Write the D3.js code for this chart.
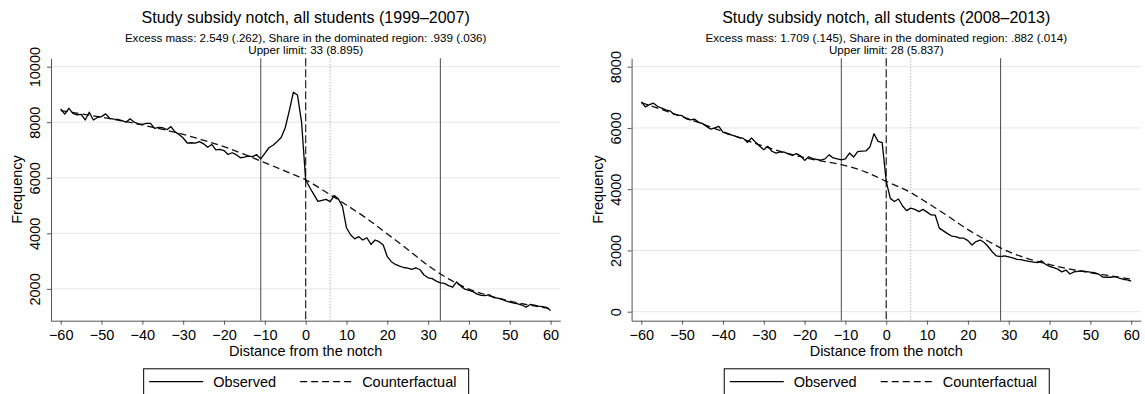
<!DOCTYPE html>
<html>
<head>
<meta charset="utf-8">
<script src="https://cdn.jsdelivr.net/npm/d3@7"></script>
<style>
  body { margin: 0; background: #fff; }
  svg text { font-family: "Liberation Sans", Arial, Helvetica, sans-serif; fill: #000; }
  .axis text { font-size: 14.5px; }
  .axis path, .axis line { stroke: #555; }
</style>
</head>
<body>
<div id="chart"></div>
<script>
// bins: distance from the notch
var distance = [-60,-59,-58,-57,-56,-55,-54,-53,-52,-51,-50,-49,-48,-47,-46,-45,-44,-43,-42,-41,
  -40,-39,-38,-37,-36,-35,-34,-33,-32,-31,-30,-29,-28,-27,-26,-25,-24,-23,-22,-21,
  -20,-19,-18,-17,-16,-15,-14,-13,-12,-11,-10,-9,-8,-7,-6,-5,-4,-3,-2,-1,
  0,1,2,3,4,5,6,7,8,9,10,11,12,13,14,15,16,17,18,19,20,21,22,23,24,25,26,27,28,29,
  30,31,32,33,34,35,36,37,38,39,40,41,42,43,44,45,46,47,48,49,50,51,52,53,54,55,56,57,58,59,60];

var observed9907 = [8480,8290,8500,8320,8260,8280,8080,8360,8080,8170,
  8200,8300,8140,8110,8100,8060,8000,8120,8000,7940,
  7920,7960,7960,7780,7810,7800,7730,7840,7650,7560,
  7430,7250,7260,7250,7300,7220,7100,7200,7000,7020,
  6980,6840,6900,6830,6720,6740,6780,6760,6830,6680,
  6880,7080,7170,7300,7450,7800,8420,9080,8980,8000,
  5920,5650,5400,5150,5190,5220,5140,5360,5240,4980,
  4200,3950,3800,3880,3760,3840,3600,3760,3700,3580,
  3160,2980,2880,2820,2770,2750,2700,2760,2690,2500,
  2400,2370,2280,2220,2200,2120,2060,2250,2100,1990,
  1950,1900,1810,1770,1760,1790,1690,1665,1630,1570,
  1520,1490,1460,1420,1340,1440,1415,1380,1360,1330,1220];

var observed0813 = [6850,6690,6760,6810,6700,6650,6590,6560,6450,6420,
  6400,6300,6260,6290,6190,6140,6050,5960,6000,6050,
  5860,5810,5770,5730,5690,5660,5530,5670,5530,5400,
  5290,5400,5240,5180,5220,5210,5150,5100,5160,5090,
  4940,5060,5000,4970,4950,4990,5120,5020,4990,4960,
  4990,5180,5050,5230,5240,5250,5380,5810,5560,5520,
  4250,3700,3600,3680,3450,3300,3380,3340,3270,3340,
  3250,3160,3150,2730,2640,2550,2470,2450,2400,2400,
  2320,2180,2290,2340,2260,2120,1950,1820,1800,1820,
  1790,1760,1710,1700,1670,1640,1620,1600,1660,1550,
  1480,1440,1390,1300,1360,1230,1300,1320,1330,1310,
  1290,1275,1230,1130,1125,1125,1145,1100,1060,1040,1000];

// counterfactual read at a few points, drawn as a smooth curve
var cfDistance = [-60,-55,-50,-45,-40,-35,-30,-25,-20,-15,-11,-5,0,6,10,15,20,25,30,35,40,45,50,55,60];
var counterfactual9907 = [8420,8300,8180,8050,7900,7740,7560,7350,7120,6840,6600,6240,5924,5390,5020,4530,3980,3420,2840,2360,1990,1750,1560,1410,1290];
var counterfactual0813 = [6830,6600,6370,6130,5880,5630,5400,5200,5030,4900,4800,4560,4257,3890,3560,3130,2680,2300,1960,1720,1540,1390,1270,1170,1060];

var xTicks = [-60,-50,-40,-30,-20,-10,0,10,20,30,40,50,60];
var yTicks9907 = [2000,4000,6000,8000,10000];
var yTicks0813 = [0,2000,4000,6000,8000];

var titles = ["Study subsidy notch, all students (1999\u20132007)", "Study subsidy notch, all students (2008\u20132013)"];
var subtitles = ["Excess mass: 2.549 (.262), Share in the dominated region: .939 (.036)",
                 "Excess mass: 1.709 (.145), Share in the dominated region: .882 (.014)"];
var upperLimitText = ["Upper limit: 33 (8.895)", "Upper limit: 28 (5.837)"];
var lowerBound = [-11, -11];
var upperBound = [33, 28];
var dottedLine = [6, 6];
var legendLabels = ["Observed", "Counterfactual"];

var svg = d3.select("#chart").append("svg")
  .attr("width", 1145)
  .attr("height", 394);

function fmt(d) {
  return d < 0 ? "\u2212" + (-d) : String(d);
}

function build_panel(k, ox, observed, counterfactual, yTicks, yDomain) {
  var margin = { top: 58.3, left: 51 };
  var width = 509.3,
    height = 262.4;

  var g = svg.append("g")
    .attr("transform", "translate(" + (ox + margin.left) + "," + margin.top + ")");

  var x = d3.scaleLinear().domain([-62.375, 62.375]).range([0, width]);
  var y = d3.scaleLinear().domain(yDomain).range([height, 0]);

  // gridlines
  g.selectAll(".grid").data(yTicks).enter().append("line")
    .attr("x1", 0).attr("x2", width)
    .attr("y1", function(d) { return y(d); })
    .attr("y2", function(d) { return y(d); })
    .style("stroke", "#e6e6e6").style("stroke-width", 1);

  // reference lines
  [lowerBound[k], upperBound[k]].forEach(function(v) {
    g.append("line")
      .attr("x1", x(v)).attr("x2", x(v)).attr("y1", 0).attr("y2", height)
      .style("stroke", "#5a5a5a").style("stroke-width", 1.1);
  });
  g.append("line")
    .attr("x1", x(dottedLine[k])).attr("x2", x(dottedLine[k])).attr("y1", 0).attr("y2", height)
    .style("stroke", "#999").style("stroke-width", 1).style("stroke-dasharray", "1,2");
  g.append("line")
    .attr("x1", x(0)).attr("x2", x(0)).attr("y1", 0).attr("y2", height)
    .style("stroke", "#333").style("stroke-width", 1.3).style("stroke-dasharray", "8,3");

  // counterfactual
  var cfLine = d3.line()
    .x(function(d, i) { return x(cfDistance[i]); })
    .y(function(d) { return y(d); })
    .curve(d3.curveMonotoneX);
  g.append("path")
    .attr("d", cfLine(counterfactual))
    .style("fill", "none").style("stroke", "#111").style("stroke-width", 1.3)
    .style("stroke-dasharray", "7,4");

  // observed
  var obsLine = d3.line()
    .x(function(d, i) { return x(distance[i]); })
    .y(function(d) { return y(d); });
  g.append("path")
    .attr("d", obsLine(observed))
    .style("fill", "none").style("stroke", "#000").style("stroke-width", 1.3)
    .style("stroke-linejoin", "round");

  // axes
  var xAxis = d3.axisBottom(x).tickValues(xTicks).tickSize(4).tickSizeOuter(0)
    .tickPadding(5).tickFormat(fmt);
  var gx = g.append("g").attr("class", "axis")
    .attr("transform", "translate(0," + height + ")")
    .call(xAxis);
  gx.attr("font-size", null).attr("font-family", null);

  var yAxis = d3.axisLeft(y).tickValues(yTicks).tickSize(4).tickSizeOuter(0)
    .tickFormat(d3.format("d"));
  var gy = g.append("g").attr("class", "axis").call(yAxis);
  gy.attr("font-size", null).attr("font-family", null);
  gy.selectAll("text")
    .attr("x", null).attr("dy", null)
    .attr("text-anchor", "middle")
    .attr("transform", "translate(-11,0) rotate(-90)");

  // axis titles
  g.append("text")
    .attr("x", width / 2).attr("y", 356 - margin.top)
    .attr("text-anchor", "middle").style("font-size", "14.5px")
    .text("Distance from the notch");
  g.append("text")
    .attr("transform", "translate(" + (22 - margin.left) + "," + (height / 2) + ") rotate(-90)")
    .attr("text-anchor", "middle").style("font-size", "14.5px")
    .text("Frequency");

  // titles
  g.append("text")
    .attr("x", width / 2).attr("y", 22.5 - margin.top)
    .attr("text-anchor", "middle").style("font-size", "16px")
    .text(titles[k]);
  g.append("text")
    .attr("x", width / 2).attr("y", 41.5 - margin.top)
    .attr("text-anchor", "middle").style("font-size", "11.6px")
    .text(subtitles[k]);
  g.append("text")
    .attr("x", width / 2).attr("y", 54 - margin.top)
    .attr("text-anchor", "middle").style("font-size", "11.6px")
    .text(upperLimitText[k]);

  // legend
  var lw = 325;
  var lg = g.append("g")
    .attr("transform", "translate(" + (width / 2 - lw / 2) + "," + (368.3 - margin.top) + ")");
  lg.append("rect")
    .attr("x", 0.5).attr("y", 0.5).attr("width", lw).attr("height", 32)
    .style("fill", "#fff").style("stroke", "#000").style("stroke-width", 1);
  lg.append("line")
    .attr("x1", 6).attr("x2", 60).attr("y1", 13.4).attr("y2", 13.4)
    .style("stroke", "#000").style("stroke-width", 1.3);
  lg.append("text").attr("x", 70).attr("y", 18.7).style("font-size", "14.5px").text(legendLabels[0]);
  lg.append("line")
    .attr("x1", 157).attr("x2", 211).attr("y1", 13.4).attr("y2", 13.4)
    .style("stroke", "#000").style("stroke-width", 1.3).style("stroke-dasharray", "7,4");
  lg.append("text").attr("x", 219).attr("y", 18.7).style("font-size", "14.5px").text(legendLabels[1]);
}

build_panel(0, 0, observed9907, counterfactual9907, yTicks9907, [855, 10300]);
build_panel(1, 580.6, observed0813, counterfactual0813, yTicks0813, [-294, 8274]);
</script>
</body>
</html>
